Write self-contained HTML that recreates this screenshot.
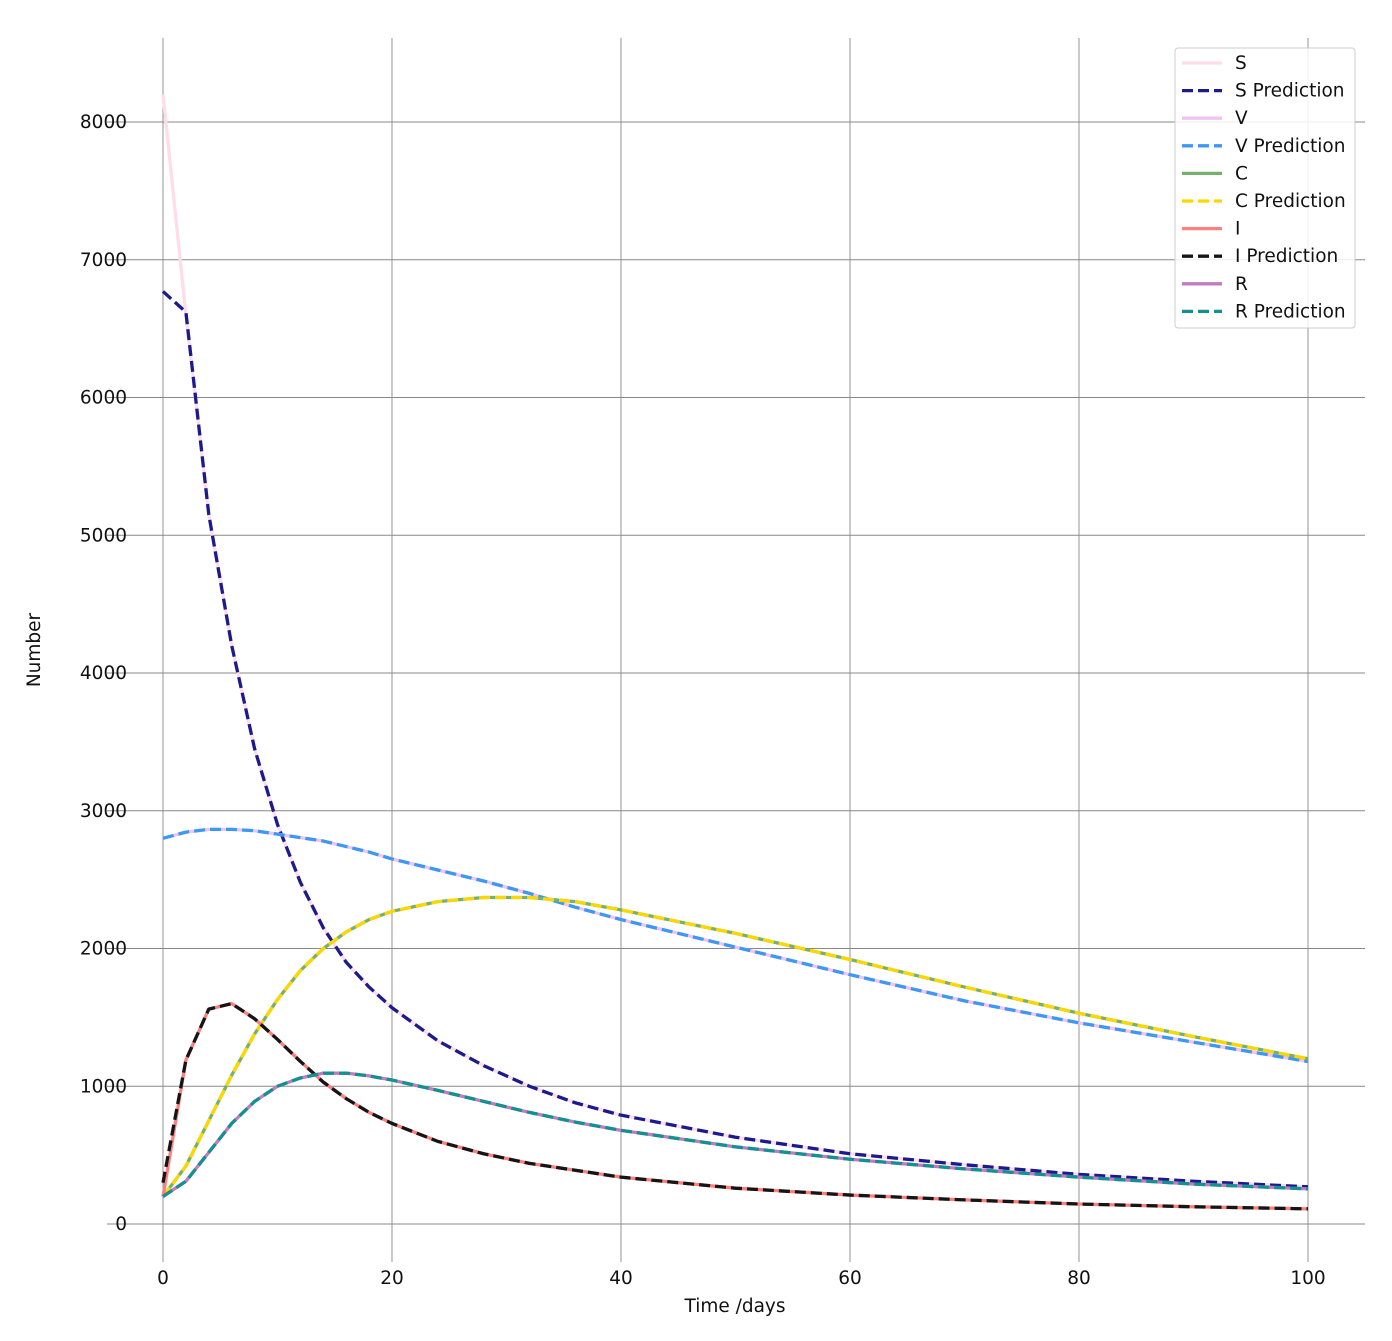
<!DOCTYPE html>
<html><head><meta charset="utf-8"><style>
body{margin:0;background:#fff}
svg text{font-family:"DejaVu Sans","Liberation Sans",sans-serif;fill:#111}
</style></head><body>
<svg id="chart" width="1392" height="1336" xmlns="http://www.w3.org/2000/svg">
<g id="grid"></g>
<g id="ticks"></g>
<g id="series"></g>
<text x="40" y="650" font-size="18.5" text-anchor="middle" transform="rotate(-90 40 650)">Number</text>
<text x="735" y="1312" font-size="18.5" text-anchor="middle">Time /days</text>
<g id="legend"></g>
</svg>
<script>
const xTicks=[0,20,40,60,80,100];
const yTicks=[0,1000,2000,3000,4000,5000,6000,7000,8000];
const days=[0,2,4,6,8,10,12,14,16,18,20,24,28,32,36,40,50,60,70,80,90,100];
const sTrue=[8200,6600,5150,4200,3450,2900,2480,2150,1900,1720,1570,1330,1150,1000,880,790,630,510,430,360,310,270];
const sPred=[6770,6620,5150,4200,3450,2900,2480,2150,1900,1720,1570,1330,1150,1000,880,790,630,510,430,360,310,270];
const vVals=[2800,2845,2865,2865,2855,2830,2805,2780,2740,2700,2650,2570,2490,2400,2300,2210,2010,1810,1620,1460,1320,1180];
const cVals=[200,420,750,1080,1380,1630,1840,2000,2120,2210,2270,2340,2370,2370,2340,2280,2110,1920,1720,1530,1360,1200];
const iTrue=[200,1190,1560,1600,1490,1340,1180,1030,910,810,730,600,510,440,390,340,260,210,175,145,125,110];
const iPred=[300,1190,1560,1600,1490,1340,1180,1030,910,810,730,600,510,440,390,340,260,210,175,145,125,110];
const rVals=[200,310,520,730,890,1000,1060,1095,1095,1075,1045,970,890,810,740,680,560,470,400,340,290,255];
const seriesNames=["S","S Prediction","V","V Prediction","C","C Prediction","I","I Prediction","R","R Prediction"];
const NS="http://www.w3.org/2000/svg";
const xs=v=>163+v*(1308-163)/100;
const ys=v=>1224-v*(1224-122)/8000;
function mk(tag,parent,attrs){const e=document.createElementNS(NS,tag);for(const k in attrs)e.setAttribute(k,attrs[k]);parent.appendChild(e);return e;}
const grid=document.getElementById('grid'),ticks=document.getElementById('ticks');
xTicks.forEach(t=>{
 const l=mk('line',grid,{x1:xs(t),x2:xs(t),y1:38,y2:1262,stroke:'#888','stroke-width':0.9});
 
 
 const tx=mk('text',ticks,{x:xs(t),y:1284,'font-size':18.5,'text-anchor':'middle'});tx.textContent=t;
 
 
});
yTicks.forEach(t=>{
 const l=mk('line',grid,{x1:107,x2:1365,y1:ys(t),y2:ys(t),stroke:'#888','stroke-width':0.9});
 
 
 const tx=mk('text',ticks,{x:127,y:ys(t)+6,'font-size':18.5,'text-anchor':'end'});tx.textContent=t;
 
 
});
const defs=[
 [sTrue,'#ffdde6',false],[sPred,'#1c1a8c',true],
 [vVals,'#f0c4f0',false],[vVals,'#3d97f5',true],
 [cVals,'#77b06a',false],[cVals,'#ffd700',true],
 [iTrue,'#ff7f7f',false],[iPred,'#151515',true],
 [rVals,'#c07cc0',false],[rVals,'#139090',true]];
const sg=document.getElementById('series');
defs.forEach((d,i)=>{
 const pts=days.map((x,j)=>xs(x)+','+ys(d[0][j])).join(' ');
 const a={points:pts,fill:'none',stroke:d[1],'stroke-width':3.3,'stroke-linejoin':'round'};
 if(d[2])a['stroke-dasharray']='11,5';
 const p=mk('polyline',sg,a);
 
 
});
const lg=document.getElementById('legend');
const box=mk('rect',lg,{x:1175,y:48,width:180,height:280,fill:'#fff','fill-opacity':0.85,stroke:'#ccc',rx:3});


defs.forEach((d,i)=>{
 const y=63+i*27.6;
 const a={x1:1182,x2:1222,y1:y,y2:y,stroke:d[1],'stroke-width':3.3};
 if(d[2])a['stroke-dasharray']='11,5';
 const l=mk('line',lg,a);
 
 
 const t=mk('text',lg,{x:1235,y:y+6,'font-size':18.5});t.textContent=seriesNames[i];
 
 
});
</script>
</body></html>
